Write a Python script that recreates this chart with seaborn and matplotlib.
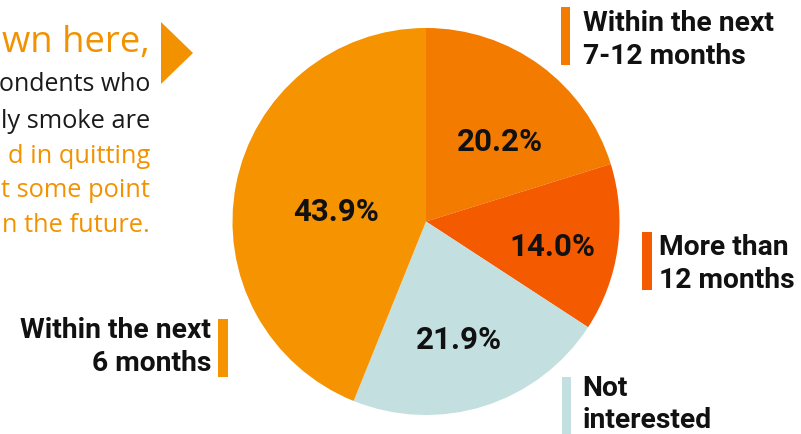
import matplotlib
matplotlib.use("Agg")
import matplotlib.pyplot as plt
import seaborn as sns
from matplotlib.patches import Rectangle, Polygon
import numpy as np

# ---- data ----
categories = ["Within the next\n7-12 months", "More than\n12 months", "Not\ninterested", "Within the next\n6 months"]
values = [20.2, 14.0, 21.9, 43.9]
colors = ["#F27B00", "#F45A00", "#C4DFE0", "#F59300"]
# label placement inside wedges: (radius fraction, angle offset from wedge middle, degrees)
pct_place = [(0.56, -6.5), (0.666, -3.3), (0.636, -1.9), (0.468, 5.0)]

# intro text as visible in the (cropped) reference
intro_lines = ["wn here,", "ondents who", "ly smoke are", "d in quitting", "t some point", "n the future."]
intro_colors = ["#F39200", "#1a1a1a", "#1a1a1a", "#F39200", "#F39200", "#F39200"]

sns.set_theme(style="white")
plt.rcParams['font.family'] = ['Roboto', 'DejaVu Sans']

W, H = 801, 434
fig = plt.figure(figsize=(W / 100, H / 100), dpi=100)

def fx(x):
    return x / W

def fy(y):
    return 1 - y / H

# pie axis: center (426, 221.5), radius 193.5 px
cx, cy, r = 426, 221.5, 193.5
ax = fig.add_axes([fx(cx - r), fy(cy + r), 2 * r / W, 2 * r / H])
wedges, texts, autotexts = ax.pie(
    values, colors=colors, startangle=90, counterclock=False,
    autopct=lambda p: f"{p:.1f}%", pctdistance=0.6,
    wedgeprops=dict(linewidth=0),
    textprops=dict(fontsize=22.5, fontweight="bold", color="#111111"),
)
for t, w, (rr, dth) in zip(autotexts, wedges, pct_place):
    ang = np.deg2rad((w.theta1 + w.theta2) / 2 + dth)
    t.set_position((rr * np.cos(ang), rr * np.sin(ang)))
ax.set_xlim(-1, 1)
ax.set_ylim(-1, 1)
ax.set_aspect("equal")
ax.axis("off")

# outer labels with bars
label_specs = [
    # (bar_x0, bar_x1, bar_y0, bar_y1, text_x, ha, first_baseline)
    (560.5, 570, 7, 64.5, 583, "left", 31),
    (642, 652, 232, 290, 659, "left", 255),
    (562, 571.5, 377, 434, 582, "left", 395.5),
    (218, 228, 319, 377, 211, "right", 338),
]
line_gap = 33
for (x0, x1, y0, y1, tx, ha, b0), lab, col in zip(label_specs, categories, colors):
    fig.patches.append(Rectangle((fx(x0), fy(y1)), fx(x1) - fx(x0), fy(y0) - fy(y1),
                                 transform=fig.transFigure, color=col, linewidth=0))
    for i, line in enumerate(lab.split("\n")):
        fig.text(fx(tx), fy(b0 + i * line_gap), line, ha=ha, va="baseline", fontsize=20.3,
                 fontweight="bold", color="#111111")

# intro text (left, right-aligned)
intro_base = [52, 91, 128, 163, 197, 232]
intro_sizes = [26.3, 17.9, 18.3, 18.3, 18.3, 18.3]
for line, col, yb, fs in zip(intro_lines, intro_colors, intro_base, intro_sizes):
    fig.text(fx(150), fy(yb), line, ha="right", va="baseline", fontsize=fs,
             color=col, family=["Open Sans", "DejaVu Sans"])

# arrow triangle
fig.patches.append(Polygon([(fx(161), fy(22)), (fx(193), fy(53)), (fx(161), fy(84))],
                           closed=True, transform=fig.transFigure, color="#F39200", linewidth=0))

fig.savefig("out.png", dpi=100)
